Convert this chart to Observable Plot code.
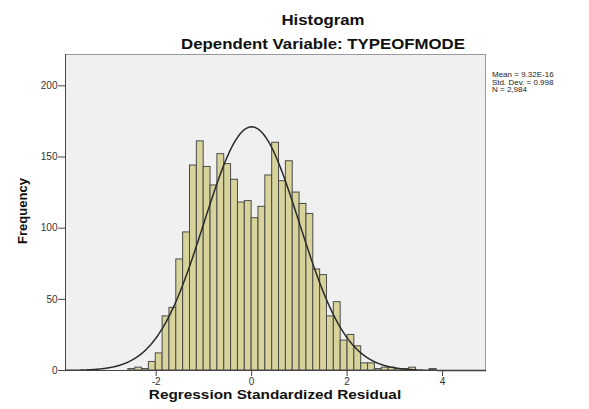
<!DOCTYPE html>
<html><head><meta charset="utf-8">
<script src="https://cdn.jsdelivr.net/npm/d3@7"></script>
<script src="https://cdn.jsdelivr.net/npm/@observablehq/plot@0.6"></script>
<style>
body{margin:0;background:#fff;font-family:"Liberation Sans",Arial,sans-serif;}
#wrap{position:relative;width:589px;height:409px;overflow:hidden;}
.t{position:absolute;font-weight:bold;color:#111;white-space:nowrap;line-height:1;}
#ylab{position:absolute;left:22px;top:211px;font-weight:bold;font-size:13px;line-height:1;color:#111;white-space:nowrap;transform:translate(-50%,-50%) rotate(-90deg);}
#legend{position:absolute;left:492px;top:71px;font-size:8px;line-height:7.7px;color:#222;white-space:nowrap;}
#chart{position:absolute;left:0;top:50px;}
</style></head><body>
<div id="wrap">
<div class="t" style="left:323px;top:12px;font-size:15px;transform:translateX(-50%) scaleX(1.12)">Histogram</div>
<div class="t" style="left:323px;top:36px;font-size:15px;transform:translateX(-50%) scaleX(1.12)">Dependent Variable: TYPEOFMODE</div>
<div id="chart"></div>
<div class="t" style="left:275px;top:388px;font-size:13px;transform:translateX(-50%) scaleX(1.18)">Regression Standardized Residual</div>
<div id="ylab">Frequency</div>
<div id="legend"></div>
</div>
<script>
// Data
const binWidth = 0.1435;
const firstBin = -18; // index of first bin (bin k spans k*binWidth .. (k+1)*binWidth)
const counts = [1, 2, 1, 6, 12, 38, 44, 78, 97, 144, 161, 143, 130, 152, 145, 134, 118, 119,
                107, 115, 137, 160, 133, 147, 125, 117, 110, 71, 67, 38, 48, 21, 25, 17, 5, 5,
                1, 2, 2, 1, 1, 2, 0, 0, 1];
const xTicks = [-2, 0, 2, 4];
const yTicks = [0, 50, 100, 150, 200];
const mean = 9.32e-16, sd = 0.998, N = 2984;
const legendLines = ["Mean = 9.32E-16", "Std. Dev. = 0.998", "N = 2,984"];

const bins = counts.map((c, i) => ({x1: (firstBin + i) * binWidth, x2: (firstBin + i + 1) * binWidth, count: c}))
  .filter(d => d.count > 0);

// fitted normal curve (SPSS overlay) from mean, sd, N
const curve = d3.range(-3.9, 4.901, 0.02).map(x => ({
  x, y: N * binWidth / (sd * Math.sqrt(2 * Math.PI)) * Math.exp(-0.5 * ((x - mean) / sd) ** 2)
}));

const chart = Plot.plot({
  width: 589, height: 359,
  marginTop: 4, marginLeft: 65, marginRight: 104, marginBottom: 39,
  style: {fontFamily: "Liberation Sans, Arial, sans-serif", fontSize: "10px", color: "#333", background: "transparent"},
  x: {domain: [-3.9, 4.9]},
  y: {domain: [0, 222]},
  marks: [
    Plot.frame({fill: "#f0f0f0", stroke: "#9a9a9a"}),
    Plot.rectY(bins, {x1: "x1", x2: "x2", y: "count", fill: "#d7d39b", stroke: "#4a4a4a", strokeWidth: 1}),
    Plot.line(curve, {x: "x", y: "y", stroke: "#2b2b2b", strokeWidth: 1.5}),
    Plot.ruleX([-3.9], {stroke: "#444"}),
    Plot.ruleY([0], {stroke: "#444"}),
    Plot.axisX({ticks: xTicks, tickSize: 6, tickPadding: 1, tickFormat: d => String(d), label: null, stroke: "#444"}),
    Plot.axisY({ticks: yTicks, tickSize: 7, tickPadding: 1, tickFormat: d => String(d), label: null, stroke: "#444"})
  ]
});
document.getElementById("chart").appendChild(chart);
document.getElementById("legend").innerHTML = legendLines.join("<br>");
</script>
</body></html>
